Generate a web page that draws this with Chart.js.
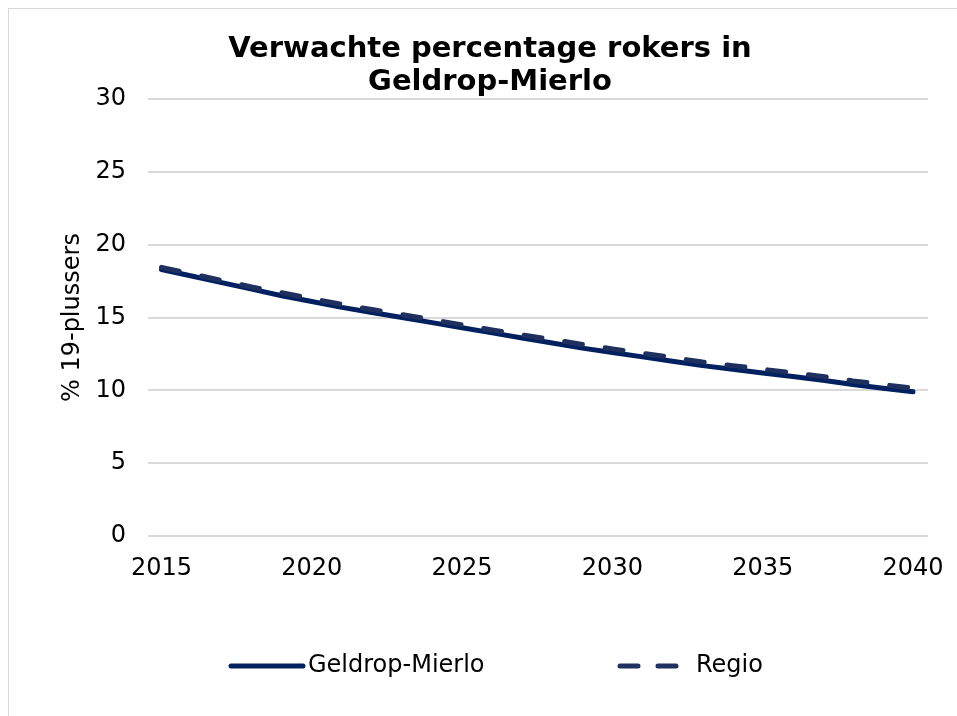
<!DOCTYPE html>
<html>
<head>
<meta charset="utf-8">
<script src="https://cdn.jsdelivr.net/npm/chart.js@4/dist/chart.umd.min.js"></script>
<style>
  html, body { margin: 0; padding: 0; background: #ffffff; overflow: hidden; }
  #frame { position: absolute; left: 8px; top: 8px; width: 1000px; height: 800px; border-left: 1px solid #d9d9d9; border-top: 1px solid #d9d9d9; }
  #wrap { position: absolute; left: 0; top: 0; width: 957px; height: 716px; overflow: hidden; }
</style>
</head>
<body>
<div id="frame"></div>
<div id="wrap"><canvas id="c" width="965" height="716"></canvas></div>
<script>
const years = [2015,2016,2017,2018,2019,2020,2021,2022,2023,2024,2025,2026,2027,2028,2029,2030,2031,2032,2033,2034,2035,2036,2037,2038,2039,2040];
const geldropMierlo = [18.3,17.85,17.4,16.95,16.5,16.1,15.7,15.35,15.0,14.65,14.3,13.95,13.6,13.25,12.9,12.6,12.3,12.0,11.7,11.45,11.2,10.95,10.7,10.4,10.15,9.9];
const regio = [18.45,18.0,17.55,17.1,16.7,16.3,15.9,15.55,15.2,14.85,14.5,14.15,13.8,13.5,13.15,12.85,12.55,12.25,11.95,11.7,11.45,11.2,10.95,10.65,10.4,10.15];
const xTicks = [2015,2020,2025,2030,2035,2040];
const yTicks = [0,5,10,15,20,25,30];
const seriesNames = ['Geldrop-Mierlo','Regio'];
const titleLines = ['Verwachte percentage rokers in','Geldrop-Mierlo'];
const yTitle = '% 19-plussers';

const FONT = "'DejaVu Sans', Verdana, sans-serif";

const legendPlugin = {
  id: 'customLegend',
  afterDraw(chart) {
    const ctx = chart.ctx;
    const items = [
      { ds: chart.data.datasets[0], x1: 231, x2: 303, tx: 308 },
      { ds: chart.data.datasets[1], x1: 620, x2: 683, tx: 696 }
    ];
    const y = 666;
    ctx.save();
    items.forEach(it => {
      ctx.beginPath();
      ctx.strokeStyle = it.ds.borderColor;
      ctx.lineWidth = it.ds.borderWidth;
      ctx.lineCap = 'round';
      ctx.setLineDash(it.ds.borderDash && it.ds.borderDash.length ? [18, 20] : []);
      ctx.moveTo(it.x1, y);
      ctx.lineTo(it.x2, y);
      ctx.stroke();
      ctx.setLineDash([]);
      ctx.fillStyle = '#000000';
      ctx.font = '24px ' + FONT;
      ctx.textBaseline = 'middle';
      ctx.textAlign = 'left';
      ctx.fillText(it.ds.label, it.tx, y);
    });
    ctx.restore();
  }
};

new Chart(document.getElementById('c'), {
  type: 'line',
  data: {
    datasets: [
      {
        label: seriesNames[0],
        data: years.map((yr, i) => ({ x: yr, y: geldropMierlo[i] })),
        borderColor: '#002060',
        backgroundColor: '#002060',
        borderWidth: 5,
        pointRadius: 0,
        tension: 0,
        borderCapStyle: 'round',
        borderJoinStyle: 'round',
        order: 2
      },
      {
        label: seriesNames[1],
        data: years.map((yr, i) => ({ x: yr, y: regio[i] })),
        borderColor: '#1f305e',
        backgroundColor: '#1f305e',
        borderWidth: 5,
        borderDash: [18, 23],
        pointRadius: 0,
        tension: 0,
        borderCapStyle: 'round',
        borderJoinStyle: 'round',
        order: 1
      }
    ]
  },
  options: {
    responsive: false,
    animation: false,
    layout: { padding: { left: 52, right: 37, top: 33, bottom: 0 } },
    plugins: {
      legend: { display: false },
      tooltip: { enabled: false },
      title: {
        display: true,
        text: titleLines,
        color: '#000000',
        font: { family: FONT, size: 29, weight: 'bold', lineHeight: 1.14 },
        padding: { top: 0, bottom: 0 }
      }
    },
    scales: {
      x: {
        type: 'linear',
        min: 2014.55,
        max: 2040.5,
        afterBuildTicks(scale) { scale.ticks = xTicks.map(v => ({ value: v })); },
        afterFit(scale) { scale.height = 180; },
        grid: { display: false, drawTicks: false },
        border: { display: false },
        ticks: {
          color: '#000000',
          font: { family: FONT, size: 24 },
          padding: 18,
          maxRotation: 0,
          autoSkip: false,
          callback: v => String(v)
        }
      },
      y: {
        min: 0,
        max: 30,
        afterBuildTicks(scale) { scale.ticks = yTicks.map(v => ({ value: v })); },
        afterFit(scale) { scale.width = 96; },
        grid: { color: '#d9d9d9', lineWidth: 2, drawTicks: false },
        border: { display: false },
        ticks: {
          color: '#000000',
          font: { family: FONT, size: 24 },
          padding: 22
        },
        title: {
          display: true,
          text: yTitle,
          color: '#000000',
          font: { family: FONT, size: 24 },
          padding: { top: 6, bottom: 0 }
        }
      }
    }
  },
  plugins: [legendPlugin]
});
</script>
</body>
</html>
